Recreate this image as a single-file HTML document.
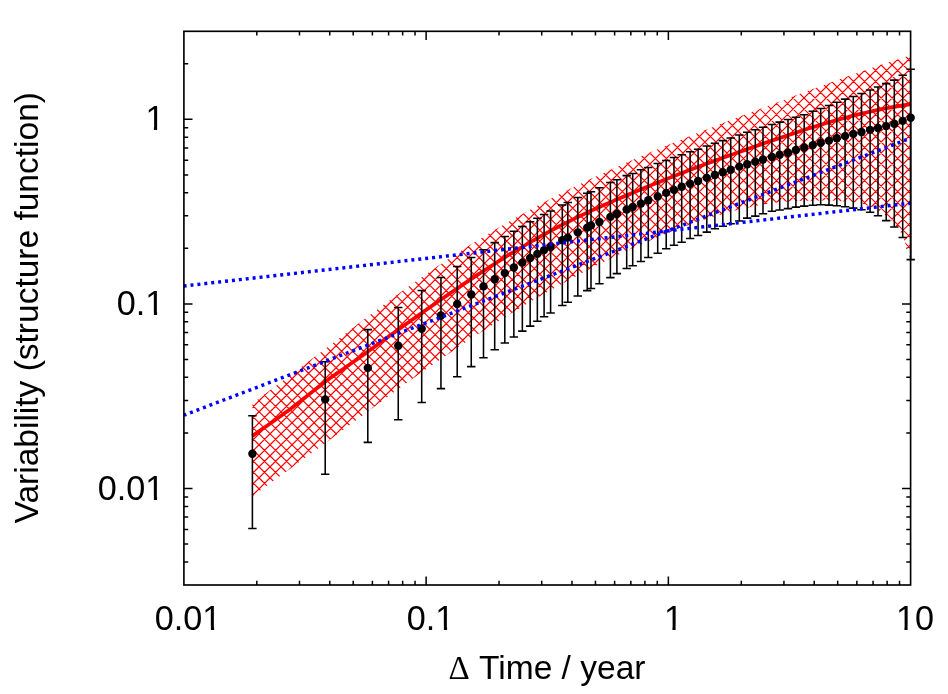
<!DOCTYPE html>
<html lang="en"><head><meta charset="utf-8"><title>Variability structure function</title>
<style>html,body{margin:0;padding:0;background:#fff;}body{width:948px;height:694px;overflow:hidden;font-family:"Liberation Sans",sans-serif;}svg{display:block;will-change:transform;}text{font-family:"Liberation Sans",sans-serif;fill:#000;}.sym{font-family:"Liberation Serif",serif;}</style></head><body>
<svg width="948" height="694" viewBox="0 0 948 694">
<rect x="0" y="0" width="948" height="694" fill="#ffffff"/>
<defs>
</defs>
<path d="M256.82 585 v-4.3 M256.82 31.3 v4.3 M299.47 585 v-4.3 M299.47 31.3 v4.3 M329.74 585 v-4.3 M329.74 31.3 v4.3 M353.21 585 v-4.3 M353.21 31.3 v4.3 M372.39 585 v-4.3 M372.39 31.3 v4.3 M388.61 585 v-4.3 M388.61 31.3 v4.3 M402.66 585 v-4.3 M402.66 31.3 v4.3 M415.05 585 v-4.3 M415.05 31.3 v4.3 M426.13 585 v-8.6 M426.13 31.3 v8.6 M499.05 585 v-4.3 M499.05 31.3 v4.3 M541.71 585 v-4.3 M541.71 31.3 v4.3 M571.97 585 v-4.3 M571.97 31.3 v4.3 M595.45 585 v-4.3 M595.45 31.3 v4.3 M614.63 585 v-4.3 M614.63 31.3 v4.3 M630.84 585 v-4.3 M630.84 31.3 v4.3 M644.89 585 v-4.3 M644.89 31.3 v4.3 M657.28 585 v-4.3 M657.28 31.3 v4.3 M668.37 585 v-8.6 M668.37 31.3 v8.6 M741.29 585 v-4.3 M741.29 31.3 v4.3 M783.94 585 v-4.3 M783.94 31.3 v4.3 M814.21 585 v-4.3 M814.21 31.3 v4.3 M837.68 585 v-4.3 M837.68 31.3 v4.3 M856.86 585 v-4.3 M856.86 31.3 v4.3 M873.08 585 v-4.3 M873.08 31.3 v4.3 M887.13 585 v-4.3 M887.13 31.3 v4.3 M899.52 585 v-4.3 M899.52 31.3 v4.3 M183.9 561.94 h4.3 M910.6 561.94 h-4.3 M183.9 544.05 h4.3 M910.6 544.05 h-4.3 M183.9 529.44 h4.3 M910.6 529.44 h-4.3 M183.9 517.08 h4.3 M910.6 517.08 h-4.3 M183.9 506.38 h4.3 M910.6 506.38 h-4.3 M183.9 496.94 h4.3 M910.6 496.94 h-4.3 M183.9 488.49 h8.6 M910.6 488.49 h-8.6 M183.9 432.93 h4.3 M910.6 432.93 h-4.3 M183.9 400.43 h4.3 M910.6 400.43 h-4.3 M183.9 377.37 h4.3 M910.6 377.37 h-4.3 M183.9 359.49 h4.3 M910.6 359.49 h-4.3 M183.9 344.87 h4.3 M910.6 344.87 h-4.3 M183.9 332.52 h4.3 M910.6 332.52 h-4.3 M183.9 321.81 h4.3 M910.6 321.81 h-4.3 M183.9 312.37 h4.3 M910.6 312.37 h-4.3 M183.9 303.93 h8.6 M910.6 303.93 h-8.6 M183.9 248.37 h4.3 M910.6 248.37 h-4.3 M183.9 215.87 h4.3 M910.6 215.87 h-4.3 M183.9 192.81 h4.3 M910.6 192.81 h-4.3 M183.9 174.92 h4.3 M910.6 174.92 h-4.3 M183.9 160.31 h4.3 M910.6 160.31 h-4.3 M183.9 147.95 h4.3 M910.6 147.95 h-4.3 M183.9 137.25 h4.3 M910.6 137.25 h-4.3 M183.9 127.81 h4.3 M910.6 127.81 h-4.3 M183.9 119.36 h8.6 M910.6 119.36 h-8.6 M183.9 63.8 h4.3 M910.6 63.8 h-4.3" fill="none" stroke="#000" stroke-width="1.5"/>
<path d="M252.4 403.47 L325.2 348.96 L367.8 316.42 L398.25 293.91 L421.7 277.23 L440.95 264.05 L457.2 253.32 L471.25 244.34 L483.5 236.74 L494.7 229.98 L504.8 224.03 L513.85 218.83 L522.35 214.04 L530.15 209.74 L537.35 205.84 L544.1 202.25 L550.6 198.84 L562.3 192.85 L567.8 190.09 L577.8 185.15 L587.2 180.62 L591 178.81 L599.4 174.88 L610.4 169.82 L616.9 166.89 L626.7 162.54 L632.7 159.91 L640.9 156.37 L648.3 153.22 L657.7 149.26 L666.2 145.73 L674 142.53 L681.7 139.4 L690.1 136.02 L698.1 132.83 L706.8 129.39 L714.9 126.21 L722.8 123.13 L730.7 120.07 L739.3 116.76 L747.2 113.73 L755.3 110.64 L763 107.71 L771.9 104.35 L779.7 101.41 L788 98.29 L795.9 95.34 L804.2 92.26 L812.8 89.08 L820.7 86.17 L829 83.14 L836.8 80.31 L845.1 77.33 L853.3 74.41 L861.5 71.53 L870.1 68.55 L878 65.85 L886.2 63.11 L894.3 60.45 L902.7 57.77 L910.6 55.32 L910.6 260 L902.7 235.3 L894.3 223.8 L886.2 215.8 L878 210.3 L870.1 206.6 L861.5 203.4 L853.3 202.16 L845.1 201.4 L836.8 200.78 L829 200.5 L820.7 200.57 L812.8 200.7 L804.2 200.84 L795.9 200.99 L788 201.48 L779.7 202.27 L771.9 203.24 L763 204.62 L755.3 206.02 L747.2 207.7 L739.3 209.53 L730.7 211.72 L722.8 213.9 L714.9 216.24 L706.8 218.79 L698.1 221.69 L690.1 224.5 L681.7 227.58 L674 230.53 L666.2 233.63 L657.7 237.13 L648.3 241.13 L640.9 244.38 L632.7 248.08 L626.7 250.85 L616.9 255.49 L610.4 258.64 L599.4 264.1 L591 268.37 L587.2 270.34 L577.8 275.27 L567.8 280.65 L562.3 283.65 L550.6 290.17 L544.1 293.86 L537.35 297.75 L530.15 301.96 L522.35 306.58 L513.85 311.7 L504.8 317.25 L494.7 323.54 L483.5 330.66 L471.25 338.6 L457.2 347.91 L440.95 358.93 L421.7 372.32 L398.25 389.07 L367.8 411.4 L325.2 443.17 L252.4 496.2 Z" fill="#ffffff" stroke="none"/>
<clipPath id="bandclip"><path d="M252.4 403.47 L325.2 348.96 L367.8 316.42 L398.25 293.91 L421.7 277.23 L440.95 264.05 L457.2 253.32 L471.25 244.34 L483.5 236.74 L494.7 229.98 L504.8 224.03 L513.85 218.83 L522.35 214.04 L530.15 209.74 L537.35 205.84 L544.1 202.25 L550.6 198.84 L562.3 192.85 L567.8 190.09 L577.8 185.15 L587.2 180.62 L591 178.81 L599.4 174.88 L610.4 169.82 L616.9 166.89 L626.7 162.54 L632.7 159.91 L640.9 156.37 L648.3 153.22 L657.7 149.26 L666.2 145.73 L674 142.53 L681.7 139.4 L690.1 136.02 L698.1 132.83 L706.8 129.39 L714.9 126.21 L722.8 123.13 L730.7 120.07 L739.3 116.76 L747.2 113.73 L755.3 110.64 L763 107.71 L771.9 104.35 L779.7 101.41 L788 98.29 L795.9 95.34 L804.2 92.26 L812.8 89.08 L820.7 86.17 L829 83.14 L836.8 80.31 L845.1 77.33 L853.3 74.41 L861.5 71.53 L870.1 68.55 L878 65.85 L886.2 63.11 L894.3 60.45 L902.7 57.77 L910.6 55.32 L910.6 260 L902.7 235.3 L894.3 223.8 L886.2 215.8 L878 210.3 L870.1 206.6 L861.5 203.4 L853.3 202.16 L845.1 201.4 L836.8 200.78 L829 200.5 L820.7 200.57 L812.8 200.7 L804.2 200.84 L795.9 200.99 L788 201.48 L779.7 202.27 L771.9 203.24 L763 204.62 L755.3 206.02 L747.2 207.7 L739.3 209.53 L730.7 211.72 L722.8 213.9 L714.9 216.24 L706.8 218.79 L698.1 221.69 L690.1 224.5 L681.7 227.58 L674 230.53 L666.2 233.63 L657.7 237.13 L648.3 241.13 L640.9 244.38 L632.7 248.08 L626.7 250.85 L616.9 255.49 L610.4 258.64 L599.4 264.1 L591 268.37 L587.2 270.34 L577.8 275.27 L567.8 280.65 L562.3 283.65 L550.6 290.17 L544.1 293.86 L537.35 297.75 L530.15 301.96 L522.35 306.58 L513.85 311.7 L504.8 317.25 L494.7 323.54 L483.5 330.66 L471.25 338.6 L457.2 347.91 L440.95 358.93 L421.7 372.32 L398.25 389.07 L367.8 411.4 L325.2 443.17 L252.4 496.2 Z"/></clipPath>
<path d="M250.4 491.23L259.17 500M250.4 480.22L270.18 500M250.4 469.21L281.19 500M250.4 458.2L292.2 500M250.4 447.19L303.21 500M250.4 436.18L314.22 500M250.4 425.17L325.23 500M250.4 414.16L336.24 500M250.4 403.15L347.25 500M250.4 392.14L358.26 500M250.4 381.13L369.27 500M250.4 370.12L380.28 500M250.4 359.11L391.29 500M250.4 348.1L402.3 500M250.4 337.09L413.31 500M250.4 326.08L424.32 500M250.4 315.07L435.33 500M250.4 304.06L446.34 500M250.4 293.05L457.35 500M250.4 282.04L468.36 500M250.4 271.03L479.37 500M250.4 260.02L490.38 500M250.4 249.01L501.39 500M250.4 238L512.4 500M250.4 226.99L523.41 500M250.4 215.98L534.42 500M250.4 204.97L545.43 500M250.4 193.96L556.44 500M250.4 182.95L567.45 500M250.4 171.94L578.46 500M250.4 160.93L589.47 500M250.4 149.92L600.48 500M250.4 138.91L611.49 500M250.4 127.9L622.5 500M250.4 116.89L633.51 500M250.4 105.88L644.52 500M250.4 94.87L655.53 500M250.4 83.86L666.54 500M250.4 72.85L677.55 500M250.4 61.84L688.56 500M250.4 50.83L699.57 500M260.58 50L710.58 500M271.59 50L721.59 500M282.6 50L732.6 500M293.61 50L743.61 500M304.62 50L754.62 500M315.63 50L765.63 500M326.64 50L776.64 500M337.65 50L787.65 500M348.66 50L798.66 500M359.67 50L809.67 500M370.68 50L820.68 500M381.69 50L831.69 500M392.7 50L842.7 500M403.71 50L853.71 500M414.72 50L864.72 500M425.73 50L875.73 500M436.74 50L886.74 500M447.75 50L897.75 500M458.76 50L908.76 500M469.77 50L912.6 492.83M480.78 50L912.6 481.82M491.79 50L912.6 470.81M502.8 50L912.6 459.8M513.81 50L912.6 448.79M524.82 50L912.6 437.78M535.83 50L912.6 426.77M546.84 50L912.6 415.76M557.85 50L912.6 404.75M568.86 50L912.6 393.74M579.87 50L912.6 382.73M590.88 50L912.6 371.72M601.89 50L912.6 360.71M612.9 50L912.6 349.7M623.91 50L912.6 338.69M634.92 50L912.6 327.68M645.93 50L912.6 316.67M656.94 50L912.6 305.66M667.95 50L912.6 294.65M678.96 50L912.6 283.64M689.97 50L912.6 272.63M700.98 50L912.6 261.62M711.99 50L912.6 250.61M723 50L912.6 239.6M734.01 50L912.6 228.59M745.02 50L912.6 217.58M756.03 50L912.6 206.57M767.04 50L912.6 195.56M778.05 50L912.6 184.55M789.06 50L912.6 173.54M800.07 50L912.6 162.53M811.08 50L912.6 151.52M822.09 50L912.6 140.51M833.1 50L912.6 129.5M844.11 50L912.6 118.49M855.12 50L912.6 107.48M866.13 50L912.6 96.47M877.14 50L912.6 85.46M888.15 50L912.6 74.45M899.16 50L912.6 63.44M910.17 50L912.6 52.43M250.4 57.08L257.48 50M250.4 68.09L268.49 50M250.4 79.1L279.5 50M250.4 90.11L290.51 50M250.4 101.12L301.52 50M250.4 112.13L312.53 50M250.4 123.14L323.54 50M250.4 134.15L334.55 50M250.4 145.16L345.56 50M250.4 156.17L356.57 50M250.4 167.18L367.58 50M250.4 178.19L378.59 50M250.4 189.2L389.6 50M250.4 200.21L400.61 50M250.4 211.22L411.62 50M250.4 222.23L422.63 50M250.4 233.24L433.64 50M250.4 244.25L444.65 50M250.4 255.26L455.66 50M250.4 266.27L466.67 50M250.4 277.28L477.68 50M250.4 288.29L488.69 50M250.4 299.3L499.7 50M250.4 310.31L510.71 50M250.4 321.32L521.72 50M250.4 332.33L532.73 50M250.4 343.34L543.74 50M250.4 354.35L554.75 50M250.4 365.36L565.76 50M250.4 376.37L576.77 50M250.4 387.38L587.78 50M250.4 398.39L598.79 50M250.4 409.4L609.8 50M250.4 420.41L620.81 50M250.4 431.42L631.82 50M250.4 442.43L642.83 50M250.4 453.44L653.84 50M250.4 464.45L664.85 50M250.4 475.46L675.86 50M250.4 486.47L686.87 50M250.4 497.48L697.88 50M258.89 500L708.89 50M269.9 500L719.9 50M280.91 500L730.91 50M291.92 500L741.92 50M302.93 500L752.93 50M313.94 500L763.94 50M324.95 500L774.95 50M335.96 500L785.96 50M346.97 500L796.97 50M357.98 500L807.98 50M368.99 500L818.99 50M380 500L830 50M391.01 500L841.01 50M402.02 500L852.02 50M413.03 500L863.03 50M424.04 500L874.04 50M435.05 500L885.05 50M446.06 500L896.06 50M457.07 500L907.07 50M468.08 500L912.6 55.48M479.09 500L912.6 66.49M490.1 500L912.6 77.5M501.11 500L912.6 88.51M512.12 500L912.6 99.52M523.13 500L912.6 110.53M534.14 500L912.6 121.54M545.15 500L912.6 132.55M556.16 500L912.6 143.56M567.17 500L912.6 154.57M578.18 500L912.6 165.58M589.19 500L912.6 176.59M600.2 500L912.6 187.6M611.21 500L912.6 198.61M622.22 500L912.6 209.62M633.23 500L912.6 220.63M644.24 500L912.6 231.64M655.25 500L912.6 242.65M666.26 500L912.6 253.66M677.27 500L912.6 264.67M688.28 500L912.6 275.68M699.29 500L912.6 286.69M710.3 500L912.6 297.7M721.31 500L912.6 308.71M732.32 500L912.6 319.72M743.33 500L912.6 330.73M754.34 500L912.6 341.74M765.35 500L912.6 352.75M776.36 500L912.6 363.76M787.37 500L912.6 374.77M798.38 500L912.6 385.78M809.39 500L912.6 396.79M820.4 500L912.6 407.8M831.41 500L912.6 418.81M842.42 500L912.6 429.82M853.43 500L912.6 440.83M864.44 500L912.6 451.84M875.45 500L912.6 462.85M886.46 500L912.6 473.86M897.47 500L912.6 484.87M908.48 500L912.6 495.88" clip-path="url(#bandclip)" fill="none" stroke="#ff0000" stroke-width="1.2"/>
<path d="M252.4 435.98 L255.41 433.85 L258.41 431.72 L261.42 429.61 L264.42 427.5 L267.43 425.39 L270.43 423.29 L273.44 421.18 L276.44 419.08 L279.45 416.95 L282.45 414.79 L285.46 412.61 L288.47 410.39 L291.47 408.13 L294.48 405.82 L297.48 403.48 L300.49 401.13 L303.49 398.76 L306.5 396.37 L309.5 394 L312.51 391.66 L315.52 389.32 L318.52 387 L321.53 384.69 L324.53 382.37 L327.54 380.08 L330.54 377.85 L333.55 375.71 L336.55 373.61 L339.56 371.52 L342.56 369.4 L345.57 367.29 L348.58 365.18 L351.58 363.07 L354.59 360.97 L357.59 358.87 L360.6 356.75 L363.6 354.62 L366.61 352.48 L369.61 350.33 L372.62 348.16 L375.62 345.98 L378.63 343.79 L381.64 341.62 L384.64 339.45 L387.65 337.28 L390.65 335.12 L393.66 332.96 L396.66 330.81 L399.67 328.66 L402.67 326.51 L405.68 324.36 L408.68 322.22 L411.69 320.09 L414.7 317.96 L417.7 315.83 L420.71 313.71 L423.71 311.59 L426.72 309.48 L429.72 307.37 L432.73 305.27 L435.73 303.18 L438.74 301.09 L441.75 299.01 L444.75 296.94 L447.76 294.87 L450.76 292.81 L453.77 290.75 L456.77 288.71 L459.78 286.67 L462.78 284.64 L465.79 282.63 L468.79 280.62 L471.8 278.62 L474.81 276.63 L477.81 274.65 L480.82 272.69 L483.82 270.73 L486.83 268.79 L489.83 266.86 L492.84 264.94 L495.84 263.03 L498.85 261.14 L501.85 259.26 L504.86 257.39 L507.87 255.54 L510.87 253.7 L513.88 251.87 L516.88 250.06 L519.89 248.27 L522.89 246.49 L525.9 244.72 L528.9 242.97 L531.91 241.24 L534.92 239.53 L537.92 237.83 L540.93 236.15 L543.93 234.49 L546.94 232.85 L549.94 231.22 L552.95 229.61 L555.95 228.03 L558.96 226.46 L561.96 224.91 L564.97 223.38 L567.98 221.87 L570.98 220.38 L573.99 218.9 L576.99 217.45 L580 216.01 L583 214.59 L586.01 213.18 L589.01 211.78 L592.02 210.41 L595.02 209.05 L598.03 207.7 L601.04 206.36 L604.04 205.03 L607.05 203.71 L610.05 202.41 L613.06 201.11 L616.06 199.82 L619.07 198.55 L622.07 197.27 L625.08 196.01 L628.08 194.75 L631.09 193.5 L634.1 192.25 L637.1 191.01 L640.11 189.77 L643.11 188.53 L646.12 187.3 L649.12 186.07 L652.13 184.84 L655.13 183.62 L658.14 182.41 L661.15 181.2 L664.15 179.99 L667.16 178.79 L670.16 177.6 L673.17 176.41 L676.17 175.22 L679.18 174.05 L682.18 172.88 L685.19 171.73 L688.19 170.58 L691.2 169.43 L694.21 168.3 L697.21 167.17 L700.22 166.05 L703.22 164.94 L706.23 163.83 L709.23 162.73 L712.24 161.64 L715.24 160.55 L718.25 159.47 L721.25 158.39 L724.26 157.32 L727.27 156.25 L730.27 155.18 L733.28 154.12 L736.28 153.06 L739.29 152 L742.29 150.94 L745.3 149.89 L748.3 148.83 L751.31 147.78 L754.32 146.74 L757.32 145.69 L760.33 144.65 L763.33 143.6 L766.34 142.56 L769.34 141.53 L772.35 140.49 L775.35 139.47 L778.36 138.45 L781.36 137.43 L784.37 136.42 L787.38 135.41 L790.38 134.41 L793.39 133.42 L796.39 132.44 L799.4 131.46 L802.4 130.5 L805.41 129.53 L808.41 128.58 L811.42 127.64 L814.42 126.7 L817.43 125.78 L820.44 124.87 L823.44 123.96 L826.45 123.07 L829.45 122.19 L832.46 121.32 L835.46 120.47 L838.47 119.62 L841.47 118.8 L844.48 117.98 L847.48 117.18 L850.49 116.39 L853.5 115.62 L856.5 114.86 L859.51 114.12 L862.51 113.4 L865.52 112.69 L868.52 111.99 L871.53 111.32 L874.53 110.66 L877.54 110.01 L880.55 109.39 L883.55 108.79 L886.56 108.2 L889.56 107.64 L892.57 107.1 L895.57 106.57 L898.58 106.06 L901.58 105.58 L904.59 105.12 L907.59 104.67 L910.6 104.25" fill="none" stroke="#ff0000" stroke-width="3.7" stroke-linejoin="round"/>
<path d="M252.4 415.7 V528.5 M248.2 415.7 H256.6 M248.2 528.5 H256.6 M325.2 361.65 V474.2 M321 361.65 H329.4 M321 474.2 H329.4 M367.8 329.6 V442.35 M363.6 329.6 H372 M363.6 442.35 H372 M398.25 307.45 V419.75 M394.05 307.45 H402.45 M394.05 419.75 H402.45 M421.7 290.55 V402.45 M417.5 290.55 H425.9 M417.5 402.45 H425.9 M440.95 277.5 V388.6 M436.75 277.5 H445.15 M436.75 388.6 H445.15 M457.2 266.5 V376.8 M453 266.5 H461.4 M453 376.8 H461.4 M471.25 257.5 V366.6 M467.05 257.5 H475.45 M467.05 366.6 H475.45 M483.5 249.8 V357.7 M479.3 249.8 H487.7 M479.3 357.7 H487.7 M494.7 242.6 V349.7 M490.5 242.6 H498.9 M490.5 349.7 H498.9 M504.8 236.4 V342.9 M500.6 236.4 H509 M500.6 342.9 H509 M513.85 231.2 V336.9 M509.65 231.2 H518.05 M509.65 336.9 H518.05 M522.35 226.4 V331.1 M518.15 226.4 H526.55 M518.15 331.1 H526.55 M530.15 221.8 V326.1 M525.95 221.8 H534.35 M525.95 326.1 H534.35 M537.35 218.2 V321.3 M533.15 218.2 H541.55 M533.15 321.3 H541.55 M544.1 214.4 V316.7 M539.9 214.4 H548.3 M539.9 316.7 H548.3 M550.6 211 V312.9 M546.4 211 H554.8 M546.4 312.9 H554.8 M562.3 205 V305.4 M558.1 205 H566.5 M558.1 305.4 H566.5 M567.8 202.5 V302.2 M563.6 202.5 H572 M563.6 302.2 H572 M577.8 197.5 V296 M573.6 197.5 H582 M573.6 296 H582 M587.2 193.3 V290.6 M583 193.3 H591.4 M583 290.6 H591.4 M591 191.7 V288.4 M586.8 191.7 H595.2 M586.8 288.4 H595.2 M599.4 187.7 V283.8 M595.2 187.7 H603.6 M595.2 283.8 H603.6 M610.4 182.5 V277.6 M606.2 182.5 H614.6 M606.2 277.6 H614.6 M616.9 179.8 V273.6 M612.7 179.8 H621.1 M612.7 273.6 H621.1 M626.7 175.6 V268.4 M622.5 175.6 H630.9 M622.5 268.4 H630.9 M632.7 173.4 V265.8 M628.5 173.4 H636.9 M628.5 265.8 H636.9 M640.9 169.8 V261.4 M636.7 169.8 H645.1 M636.7 261.4 H645.1 M648.3 167.4 V257.4 M644.1 167.4 H652.5 M644.1 257.4 H652.5 M657.7 163.4 V253.2 M653.5 163.4 H661.9 M653.5 253.2 H661.9 M666.2 160.4 V248.8 M662 160.4 H670.4 M662 248.8 H670.4 M674 157.4 V245.3 M669.8 157.4 H678.2 M669.8 245.3 H678.2 M681.7 154.8 V242.3 M677.5 154.8 H685.9 M677.5 242.3 H685.9 M690.1 151.8 V238.5 M685.9 151.8 H694.3 M685.9 238.5 H694.3 M698.1 149.2 V235.5 M693.9 149.2 H702.3 M693.9 235.5 H702.3 M706.8 146 V232.1 M702.6 146 H711 M702.6 232.1 H711 M714.9 143.2 V228.7 M710.7 143.2 H719.1 M710.7 228.7 H719.1 M722.8 140.6 V226.3 M718.6 140.6 H727 M718.6 226.3 H727 M730.7 137.9 V223.7 M726.5 137.9 H734.9 M726.5 223.7 H734.9 M739.3 134.9 V220.9 M735.1 134.9 H743.5 M735.1 220.9 H743.5 M747.2 132.3 V218.1 M743 132.3 H751.4 M743 218.1 H751.4 M755.3 129.7 V216.1 M751.1 129.7 H759.5 M751.1 216.1 H759.5 M763 127.3 V213.7 M758.8 127.3 H767.2 M758.8 213.7 H767.2 M771.9 124.5 V211.3 M767.7 124.5 H776.1 M767.7 211.3 H776.1 M779.7 122.1 V210 M775.5 122.1 H783.9 M775.5 210 H783.9 M788 119.55 V208.6 M783.8 119.55 H792.2 M783.8 208.6 H792.2 M795.9 117.3 V207.1 M791.7 117.3 H800.1 M791.7 207.1 H800.1 M804.2 114.7 V206.1 M800 114.7 H808.4 M800 206.1 H808.4 M812.8 111.3 V205.3 M808.6 111.3 H817 M808.6 205.3 H817 M820.7 108.5 V204.8 M816.5 108.5 H824.9 M816.5 204.8 H824.9 M829 105.4 V205.1 M824.8 105.4 H833.2 M824.8 205.1 H833.2 M836.8 102.3 V205.8 M832.6 102.3 H841 M832.6 205.8 H841 M845.1 99.1 V206.8 M840.9 99.1 H849.3 M840.9 206.8 H849.3 M853.3 96.4 V208.1 M849.1 96.4 H857.5 M849.1 208.1 H857.5 M861.5 93.4 V209.8 M857.3 93.4 H865.7 M857.3 209.8 H865.7 M870.1 90 V212.2 M865.9 90 H874.3 M865.9 212.2 H874.3 M878 86.9 V215.7 M873.8 86.9 H882.2 M873.8 215.7 H882.2 M886.2 83.6 V220.6 M882 83.6 H890.4 M882 220.6 H890.4 M894.3 80.1 V226.9 M890.1 80.1 H898.5 M890.1 226.9 H898.5 M902.7 75.2 V237.5 M898.5 75.2 H906.9 M898.5 237.5 H906.9 M910.7 69.3 V259.6 M906.5 69.3 H914.9 M906.5 259.6 H914.9" fill="none" stroke="#000" stroke-width="1.55"/>
<g fill="#000"><circle cx="252.4" cy="453.7" r="4.2"/><circle cx="325.2" cy="399.4" r="4.2"/><circle cx="367.8" cy="367.9" r="4.2"/><circle cx="398.25" cy="345.7" r="4.2"/><circle cx="421.7" cy="328.7" r="4.2"/><circle cx="440.95" cy="315.5" r="4.2"/><circle cx="457.2" cy="304" r="4.2"/><circle cx="471.25" cy="294.5" r="4.2"/><circle cx="483.5" cy="286.4" r="4.2"/><circle cx="494.7" cy="279.3" r="4.2"/><circle cx="504.8" cy="273.1" r="4.2"/><circle cx="513.85" cy="267.5" r="4.2"/><circle cx="522.35" cy="262.6" r="4.2"/><circle cx="530.15" cy="258" r="4.2"/><circle cx="537.35" cy="253.9" r="4.2"/><circle cx="544.1" cy="250.1" r="4.2"/><circle cx="550.6" cy="246.8" r="4.2"/><circle cx="562.3" cy="240.3" r="4.2"/><circle cx="567.8" cy="237.6" r="4.2"/><circle cx="577.8" cy="232.4" r="4.2"/><circle cx="587.2" cy="227.6" r="4.2"/><circle cx="591" cy="225.4" r="4.2"/><circle cx="599.4" cy="222" r="4.2"/><circle cx="610.4" cy="216.9" r="4.2"/><circle cx="616.9" cy="213.9" r="4.2"/><circle cx="626.7" cy="209.5" r="4.2"/><circle cx="632.7" cy="207" r="4.2"/><circle cx="640.9" cy="203.6" r="4.2"/><circle cx="648.3" cy="200.2" r="4.2"/><circle cx="657.7" cy="196.5" r="4.2"/><circle cx="666.2" cy="192.9" r="4.2"/><circle cx="674" cy="189.9" r="4.2"/><circle cx="681.7" cy="186.8" r="4.2"/><circle cx="690.1" cy="183.8" r="4.2"/><circle cx="698.1" cy="181" r="4.2"/><circle cx="706.8" cy="177.9" r="4.2"/><circle cx="714.9" cy="175" r="4.2"/><circle cx="722.8" cy="172.3" r="4.2"/><circle cx="730.7" cy="169.8" r="4.2"/><circle cx="739.3" cy="166.6" r="4.2"/><circle cx="747.2" cy="164.3" r="4.2"/><circle cx="755.3" cy="161.7" r="4.2"/><circle cx="763" cy="159.5" r="4.2"/><circle cx="771.9" cy="157" r="4.2"/><circle cx="779.7" cy="154.7" r="4.2"/><circle cx="788" cy="152.7" r="4.2"/><circle cx="795.9" cy="150" r="4.2"/><circle cx="804.2" cy="147.6" r="4.2"/><circle cx="812.8" cy="145.1" r="4.2"/><circle cx="820.7" cy="142.8" r="4.2"/><circle cx="829" cy="140.6" r="4.2"/><circle cx="836.8" cy="138.3" r="4.2"/><circle cx="845.1" cy="136.1" r="4.2"/><circle cx="853.3" cy="133.9" r="4.2"/><circle cx="861.5" cy="132" r="4.2"/><circle cx="870.1" cy="129.9" r="4.2"/><circle cx="878" cy="128" r="4.2"/><circle cx="886.2" cy="126.1" r="4.2"/><circle cx="894.3" cy="123.7" r="4.2"/><circle cx="902.7" cy="120.9" r="4.2"/><circle cx="910.7" cy="117.8" r="4.2"/></g>
<line x1="183.9" y1="286" x2="910.6" y2="203.2" stroke="#0000ff" stroke-width="3.45" stroke-dasharray="3.0 3.946" stroke-dashoffset="0.3"/>
<line x1="183.9" y1="415.2" x2="910.6" y2="138.2" stroke="#0000ff" stroke-width="3.45" stroke-dasharray="3.0 3.946" stroke-dashoffset="0.4"/>
<rect x="183.9" y="31.3" width="726.7" height="553.7" fill="none" stroke="#000" stroke-width="1.65"/>
<text x="154.85" y="629.9" font-size="34.2" clip-path="url(#c1)">0.01</text>
<text x="406.85" y="629.9" font-size="34.2" clip-path="url(#c2)">0.1</text>
<text x="663.9" y="629.9" font-size="34.2" clip-path="url(#c3)">1</text>
<text x="895.9" y="629.9" font-size="34.2" clip-path="url(#c4)">10</text>
<text x="145.4" y="130.3" font-size="34.2" clip-path="url(#c5)">1</text>
<text x="116.85" y="315.2" font-size="34.2" clip-path="url(#c6)">0.1</text>
<text x="97.85" y="499.8" font-size="34.2" clip-path="url(#c7)">0.01</text>
<defs><clipPath id="c1"><path clip-rule="evenodd" d="M144.85 584.9 h140 v60 h-140 Z M204 626.65 H210.89 V631.9 H204 Z M214.12 626.65 H220.74 V631.9 H214.12 Z"/></clipPath><clipPath id="c2"><path clip-rule="evenodd" d="M396.85 584.9 h140 v60 h-140 Z M436.98 626.65 H443.87 V631.9 H436.98 Z M447.09 626.65 H453.72 V631.9 H447.09 Z"/></clipPath><clipPath id="c3"><path clip-rule="evenodd" d="M653.9 584.9 h140 v60 h-140 Z M665.51 626.65 H672.4 V631.9 H665.51 Z M675.62 626.65 H682.25 V631.9 H675.62 Z"/></clipPath><clipPath id="c4"><path clip-rule="evenodd" d="M885.9 584.9 h140 v60 h-140 Z M897.51 626.65 H904.4 V631.9 H897.51 Z M907.62 626.65 H914.25 V631.9 H907.62 Z"/></clipPath><clipPath id="c5"><path clip-rule="evenodd" d="M135.4 85.3 h140 v60 h-140 Z M147.01 127.05 H153.9 V132.3 H147.01 Z M157.12 127.05 H163.75 V132.3 H157.12 Z"/></clipPath><clipPath id="c6"><path clip-rule="evenodd" d="M106.85 270.2 h140 v60 h-140 Z M146.98 311.95 H153.87 V317.2 H146.98 Z M157.09 311.95 H163.72 V317.2 H157.09 Z"/></clipPath><clipPath id="c7"><path clip-rule="evenodd" d="M87.85 454.8 h140 v60 h-140 Z M147 496.55 H153.89 V501.8 H147 Z M157.12 496.55 H163.74 V501.8 H157.12 Z"/></clipPath></defs>
<text x="448.55" y="679.0" font-size="33" class="sym">&#916;</text>
<text transform="translate(479.0 679.0)" font-size="33.55">Time / year</text>
<text transform="translate(38 523.4) rotate(-90)" font-size="33.5">Variability (structure function)</text>
</svg></body></html>
